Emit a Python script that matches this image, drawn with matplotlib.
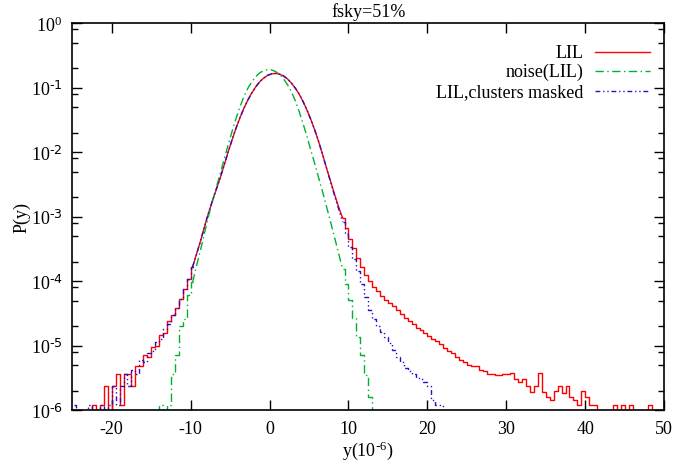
import numpy as np
import matplotlib
matplotlib.use('Agg')
import matplotlib.pyplot as plt
from matplotlib.ticker import FixedLocator, NullFormatter, FuncFormatter

plt.rcParams['font.family'] = ['Liberation Serif', 'DejaVu Serif']
plt.rcParams['mathtext.default'] = 'regular'
plt.rcParams['axes.unicode_minus'] = False
plt.rcParams['font.size'] = 13

# histogram bin width and first bin centre of each series
bin_w = 0.5
red_x0 = -24.75
blue_x0 = -24.75
green_x0 = -14.25

# log10 P(y) per bin, -9 = empty bin
red_logp = [
    -9, -9, -9, -9, -9, -5.92, -9, -5.92, -5.62, -9,
    -5.62, -5.44, -5.92, -5.44, -5.44, -5.62, -5.32, -5.32, -5.14, -5.18,
    -5.02, -5.00, -4.84, -4.80, -4.62, -4.53, -4.41, -4.28, -4.13, -3.97,
    -3.78, -3.58, -3.38, -3.16, -2.95, -2.76, -2.58, -2.40, -2.20, -2.00,
    -1.81, -1.63, -1.467, -1.32, -1.193, -1.082, -0.988, -0.91, -0.853, -0.81,
    -0.787, -0.78, -0.79, -0.818, -0.863, -0.926, -1.006, -1.10, -1.217, -1.35,
    -1.50, -1.665, -1.85, -2.05, -2.26, -2.46, -2.66, -2.85, -3.02, -3.18,
    -3.34, -3.49, -3.64, -3.78, -3.90, -4.00, -4.09, -4.16, -4.23, -4.29,
    -4.34, -4.39, -4.45, -4.51, -4.57, -4.62, -4.67, -4.72, -4.76, -4.80,
    -4.85, -4.89, -4.93, -4.97, -5.03, -5.08, -5.12, -5.17, -5.22, -5.26,
    -5.30, -5.31, -5.32, -5.38, -5.40, -5.44, -5.44, -5.46, -5.46, -5.44,
    -5.44, -5.42, -5.52, -5.56, -5.52, -5.62, -5.72, -5.62, -5.42, -5.72,
    -5.80, -5.85, -5.70, -5.62, -5.74, -5.62, -5.80, -5.85, -5.92, -5.70,
    -5.80, -5.92, -5.92, -9, -9, -9, -9, -5.92, -9, -5.92,
    -9, -5.92, -9, -9, -9, -9, -5.92, -9, -9, -9,
]

blue_logp = [
    -5.92, -9, -9, -9, -5.92, -9, -9, -5.92, -9, -5.92,
    -5.62, -5.92, -5.62, -5.44, -5.62, -5.38, -5.44, -5.22, -5.26, -5.12,
    -5.08, -4.95, -4.90, -4.74, -4.66, -4.53, -4.41, -4.28, -4.13, -3.97,
    -3.78, -3.58, -3.38, -3.16, -2.95, -2.76, -2.58, -2.40, -2.20, -2.00,
    -1.81, -1.63, -1.467, -1.32, -1.193, -1.082, -0.988, -0.91, -0.853, -0.81,
    -0.787, -0.78, -0.79, -0.818, -0.863, -0.926, -1.006, -1.10, -1.217, -1.35,
    -1.50, -1.665, -1.85, -2.05, -2.26, -2.47, -2.68, -2.88, -3.08, -3.27,
    -3.47, -3.66, -3.85, -4.05, -4.25, -4.45, -4.58, -4.70, -4.79, -4.87,
    -4.96, -5.07, -5.18, -5.26, -5.34, -5.40, -5.44, -5.50, -5.52, -5.56,
    -5.62, -5.85, -5.92, -5.92, -9,
]

green_logp = [
    -9, -5.92, -9, -5.92, -5.44, -5.14, -4.70, -4.58, -4.22, -4.02,
    -3.76, -3.52, -3.26, -3.00, -2.77, -2.55, -2.33, -2.11, -1.89, -1.68,
    -1.48, -1.30, -1.14, -1.01, -0.91, -0.83, -0.77, -0.74, -0.72, -0.725,
    -0.75, -0.79, -0.86, -0.95, -1.06, -1.20, -1.37, -1.56, -1.76, -1.98,
    -2.19, -2.41, -2.63, -2.86, -3.09, -3.33, -3.57, -3.81, -4.05, -4.30,
    -4.57, -4.87, -5.15, -5.45, -5.80, -9, -9,
]

labels = ['LIL', 'noise(LIL)', 'LIL,clusters masked']
colors = ['#ff0000', '#00b030', '#2a10c0']
styles = ['-', (0, (6, 2.5, 1, 2.5)), (0, (3.5, 2, 1, 2, 1, 2))]
y_decades = [-6, -5, -4, -3, -2, -1, 0]
x_ticks = [-20, -10, 0, 10, 20, 30, 40, 50]

# steep middle part drawn as a line, sparse tails as histogram steps
core_lo, core_hi = -10.0, 9.0


def draw(ax, x0, lp, c, ls):
    x = x0 + bin_w * np.arange(len(lp))
    p = 10.0 ** np.array(lp)
    i0 = int(np.searchsorted(x, core_lo))
    i1 = int(np.searchsorted(x, core_hi))
    ax.plot(x[:i0 + 1], p[:i0 + 1], drawstyle='steps-mid', color=c, lw=1.0, ls=ls)
    ax.plot(x[i0:i1 + 1], p[i0:i1 + 1], color=c, lw=1.0, ls=ls)
    ax.plot(x[i1:], p[i1:], drawstyle='steps-mid', color=c, lw=1.0, ls=ls)


def pow_label(v, pos):
    e = int(round(np.log10(v)))
    if e < 0:
        return r'10$^{\text{-%d}}$' % (-e)
    return r'10$^{%d}$' % e


fig = plt.figure(figsize=(6.75, 4.64), dpi=100)
ax = fig.add_axes([0.107, 0.114, 0.877, 0.834])

series = [(red_x0, red_logp), (green_x0, green_logp), (blue_x0, blue_logp)]
for (x0, lp), c, ls in zip(series, colors, styles):
    draw(ax, x0, lp, c, ls)

ax.set_yscale('log')
ax.set_xlim(-25, 50)
ax.set_ylim(1e-6, 1)
ax.set_xticks(x_ticks)
major = [10.0 ** e for e in y_decades]
minor = [m * 10.0 ** e for e in y_decades[:-1] for m in (2, 5, 8)]
ax.yaxis.set_major_locator(FixedLocator(major))
ax.yaxis.set_major_formatter(FuncFormatter(pow_label))
ax.yaxis.set_minor_locator(FixedLocator(minor))
ax.yaxis.set_minor_formatter(NullFormatter())
ax.tick_params(which='both', direction='in', top=True, right=True, width=1.0)
ax.tick_params(which='major', length=7, labelsize=13, pad=7)
ax.tick_params(which='minor', length=4)
ax.tick_params(axis='x', which='minor', top=False, bottom=False)
for s in ax.spines.values():
    s.set_linewidth(1.2)

ax.set_title('fsky=51%', fontsize=13, pad=5)
ax.set_xlabel(r'y(10$^{\text{-}6}$)', fontsize=13, labelpad=1)
ax.set_ylabel('P(y)', fontsize=13, labelpad=0)

# gnuplot style key: text right aligned, line sample on its right
key_y = [0.925, 0.876, 0.824]
for lab, c, ls, yy in zip(labels, colors, styles, key_y):
    ax.text(0.863, yy, lab, transform=ax.transAxes, ha='right', va='center', fontsize=13)
    ax.plot([0.883, 0.976], [yy, yy], transform=ax.transAxes, color=c, lw=1.0, ls=ls)

fig.savefig('out.png', dpi=100)
